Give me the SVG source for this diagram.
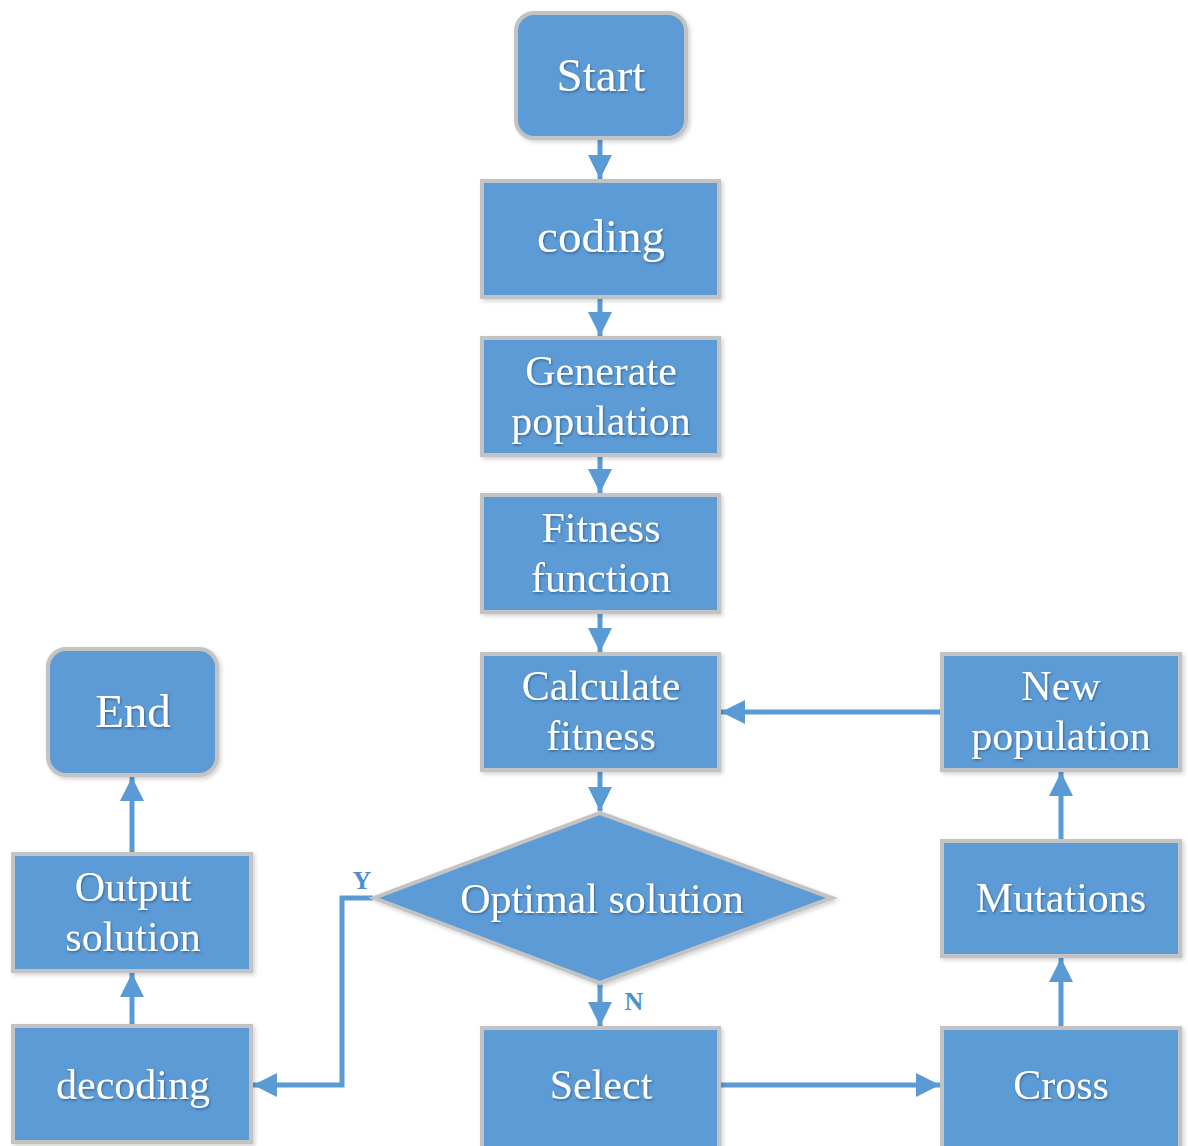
<svg xmlns="http://www.w3.org/2000/svg" width="1188" height="1146" viewBox="0 0 1188 1146">
  <style>
    .box { fill: #5b9bd5; stroke: #c3c3c3; stroke-width: 4; }
    .lbl { font-family: "Liberation Serif", "Times New Roman", serif; font-size: 42px; fill: #ffffff; text-anchor: middle; filter: url(#tshadow); }
    .big { font-size: 47px; }
    .yn { font-family: "Liberation Serif", "Times New Roman", serif; font-size: 26px; font-weight: bold; fill: #4f8fcf; text-anchor: middle; }
    .wire { fill: none; stroke: #5b9bd5; stroke-width: 5; }
  </style>
  <defs>
    <marker id="arrow" viewBox="0 0 10 10" refX="10" refY="5" markerWidth="4.8" markerHeight="4.8" orient="auto" markerUnits="strokeWidth">
      <path d="M0,0 L10,5 L0,10 Z" fill="#5b9bd5"/>
    </marker>
    <filter id="tshadow" x="-10%" y="-20%" width="120%" height="140%">
      <feDropShadow dx="1" dy="1.5" stdDeviation="0.8" flood-color="#2a4f7a" flood-opacity="0.7"/>
    </filter>
    <filter id="bshadow" x="-5%" y="-5%" width="115%" height="115%">
      <feDropShadow dx="2" dy="2" stdDeviation="2" flood-color="#000000" flood-opacity="0.18"/>
    </filter>
  </defs>

  <rect width="1188" height="1146" fill="#ffffff"/>

  <!-- connectors -->
  <g id="connectors">
    <line class="wire" x1="600" y1="139" x2="600" y2="179" marker-end="url(#arrow)"/>
    <line class="wire" x1="600" y1="298" x2="600" y2="336" marker-end="url(#arrow)"/>
    <line class="wire" x1="600" y1="456" x2="600" y2="493" marker-end="url(#arrow)"/>
    <line class="wire" x1="600" y1="613" x2="600" y2="652" marker-end="url(#arrow)"/>
    <line class="wire" x1="600" y1="771" x2="600" y2="811" marker-end="url(#arrow)"/>
    <line class="wire" x1="600" y1="983" x2="600" y2="1026" marker-end="url(#arrow)"/>
    <polyline class="wire" points="373,898 342,898 342,1085 253,1085" marker-end="url(#arrow)"/>
    <line class="wire" x1="720" y1="1085" x2="940" y2="1085" marker-end="url(#arrow)"/>
    <line class="wire" x1="1061" y1="1027" x2="1061" y2="958" marker-end="url(#arrow)"/>
    <line class="wire" x1="1061" y1="840" x2="1061" y2="772" marker-end="url(#arrow)"/>
    <line class="wire" x1="941" y1="712" x2="721" y2="712" marker-end="url(#arrow)"/>
    <line class="wire" x1="132" y1="1025" x2="132" y2="973" marker-end="url(#arrow)"/>
    <line class="wire" x1="132" y1="853" x2="132" y2="777" marker-end="url(#arrow)"/>
    <text class="yn" x="362" y="889">Y</text>
    <text class="yn" x="634" y="1010">N</text>
  </g>

  <g id="start">
    <rect class="box" x="516" y="13" width="170" height="125" rx="18" filter="url(#bshadow)"/>
    <text class="lbl big" x="601" y="91">Start</text>
  </g>
  <g id="coding">
    <rect class="box" x="482" y="181" width="237" height="116" filter="url(#bshadow)"/>
    <text class="lbl big" x="601" y="252">coding</text>
  </g>
  <g id="generate">
    <rect class="box" x="482" y="338" width="237" height="117" filter="url(#bshadow)"/>
    <text class="lbl" x="601" y="385">Generate</text>
    <text class="lbl" x="601" y="435">population</text>
  </g>
  <g id="fitness-function">
    <rect class="box" x="482" y="495" width="237" height="117" filter="url(#bshadow)"/>
    <text class="lbl" x="601" y="542">Fitness</text>
    <text class="lbl" x="601" y="592">function</text>
  </g>
  <g id="calculate">
    <rect class="box" x="482" y="654" width="237" height="116" filter="url(#bshadow)"/>
    <text class="lbl" x="601" y="700">Calculate</text>
    <text class="lbl" x="601" y="750">fitness</text>
  </g>
  <g id="optimal">
    <polygon class="box" points="600,813 832,898 600,983 374,898" filter="url(#bshadow)"/>
    <text class="lbl" x="602" y="913">Optimal solution</text>
  </g>
  <g id="select">
    <rect class="box" x="482" y="1028" width="237" height="120" filter="url(#bshadow)"/>
    <text class="lbl" x="601" y="1099">Select</text>
  </g>
  <g id="cross">
    <rect class="box" x="942" y="1028" width="238" height="120" filter="url(#bshadow)"/>
    <text class="lbl" x="1061" y="1099">Cross</text>
  </g>
  <g id="mutations">
    <rect class="box" x="942" y="841" width="238" height="115" filter="url(#bshadow)"/>
    <text class="lbl" x="1061" y="912">Mutations</text>
  </g>
  <g id="new-population">
    <rect class="box" x="942" y="654" width="238" height="116" filter="url(#bshadow)"/>
    <text class="lbl" x="1061" y="700">New</text>
    <text class="lbl" x="1061" y="750">population</text>
  </g>
  <g id="end">
    <rect class="box" x="48" y="649" width="169" height="126" rx="18" filter="url(#bshadow)"/>
    <text class="lbl big" x="133" y="727">End</text>
  </g>
  <g id="output">
    <rect class="box" x="13" y="854" width="238" height="117" filter="url(#bshadow)"/>
    <text class="lbl" x="133" y="901">Output</text>
    <text class="lbl" x="133" y="951">solution</text>
  </g>
  <g id="decoding">
    <rect class="box" x="13" y="1026" width="238" height="116" filter="url(#bshadow)"/>
    <text class="lbl" x="133" y="1099">decoding</text>
  </g>
</svg>
